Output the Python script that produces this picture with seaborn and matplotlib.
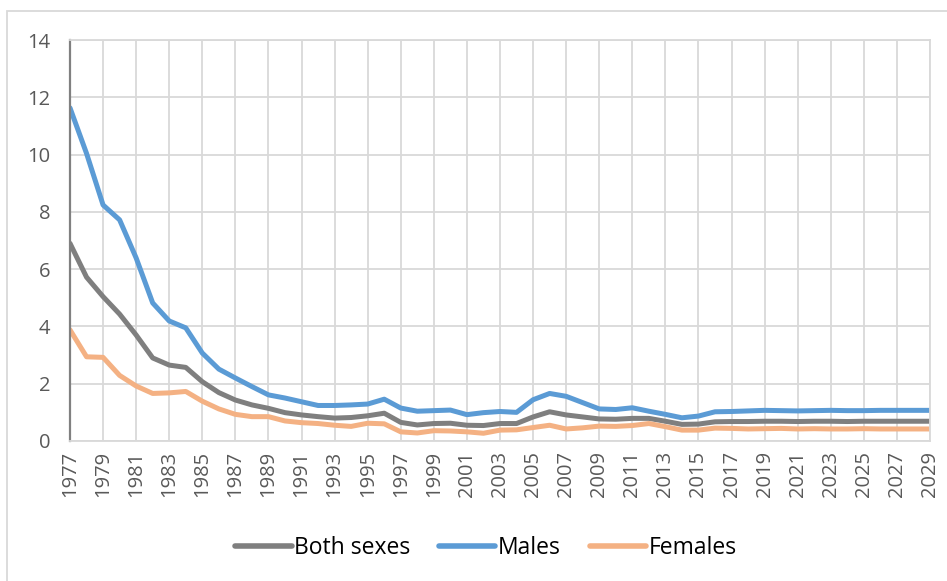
import matplotlib
matplotlib.use("Agg")
import matplotlib.pyplot as plt
import seaborn as sns
import pandas as pd
from matplotlib.patches import Rectangle
from matplotlib.lines import Line2D

years = list(range(1977, 2030))

both_sexes = [6.90, 5.72, 5.04, 4.43, 3.70, 2.90, 2.65, 2.57, 2.07, 1.69,
              1.43, 1.26, 1.14, 0.99, 0.91, 0.85, 0.80, 0.82, 0.88, 0.97,
              0.65, 0.56, 0.61, 0.62, 0.55, 0.54, 0.61, 0.61, 0.84, 1.02,
              0.91, 0.84, 0.77, 0.76, 0.79, 0.79, 0.69, 0.58, 0.59, 0.67,
              0.68, 0.68, 0.69, 0.69, 0.68, 0.69, 0.69, 0.68, 0.69, 0.69,
              0.69, 0.69, 0.69]

males = [11.63, 10.04, 8.24, 7.72, 6.39, 4.82, 4.19, 3.95, 3.07, 2.51,
         2.20, 1.90, 1.61, 1.50, 1.37, 1.24, 1.24, 1.26, 1.29, 1.46,
         1.15, 1.04, 1.06, 1.08, 0.92, 0.99, 1.03, 1.00, 1.44, 1.66,
         1.56, 1.34, 1.12, 1.10, 1.16, 1.04, 0.93, 0.81, 0.87, 1.02,
         1.03, 1.05, 1.07, 1.06, 1.05, 1.06, 1.07, 1.06, 1.06, 1.07,
         1.07, 1.07, 1.07]

females = [3.88, 2.94, 2.92, 2.29, 1.92, 1.66, 1.68, 1.73, 1.39, 1.12,
           0.93, 0.85, 0.85, 0.70, 0.64, 0.61, 0.55, 0.51, 0.62, 0.60,
           0.32, 0.28, 0.36, 0.35, 0.32, 0.27, 0.38, 0.39, 0.47, 0.55,
           0.42, 0.46, 0.52, 0.51, 0.54, 0.61, 0.50, 0.38, 0.38, 0.45,
           0.44, 0.42, 0.43, 0.44, 0.42, 0.43, 0.42, 0.42, 0.43, 0.42,
           0.42, 0.42, 0.42]

series_names = ["Both sexes", "Males", "Females"]
series_colors = ["#7f7f7f", "#5b9bd5", "#f4b183"]

df = pd.DataFrame({"Year": years, "Both sexes": both_sexes,
                   "Males": males, "Females": females})
long = df.melt(id_vars="Year", var_name="Series", value_name="Value")

sns.set_style("white")
plt.rcParams["font.family"] = ["Open Sans", "DejaVu Sans"]

fig = plt.figure(figsize=(9.47, 5.81), dpi=100)
ax = fig.add_axes([70 / 947, 1 - 441 / 581, 860 / 947, 401 / 581])

sns.lineplot(data=long, x="Year", y="Value", hue="Series",
             hue_order=series_names, palette=series_colors,
             linewidth=3.6, ax=ax, legend=False)

ax.set_xlim(1977, 2029)
ax.set_ylim(0, 14)
ax.set_yticks(range(0, 15, 2))
ax.set_xticks(years[::2])
ax.set_xticklabels([str(y) for y in years[::2]], rotation=90)
ax.tick_params(axis="both", length=0, colors="#595959", labelsize=14.5)
ax.tick_params(axis="x", pad=7)
ax.tick_params(axis="y", pad=14)
ax.set_xlabel("")
ax.set_ylabel("")
ax.grid(True, color="#d9d9d9", linewidth=1.3)
ax.set_axisbelow(True)
for side in ["top", "right", "bottom"]:
    ax.spines[side].set_color("#d9d9d9")
    ax.spines[side].set_linewidth(1.3)
ax.spines["left"].set_color("#808080")
ax.spines["left"].set_linewidth(1.6)

handles = [Line2D([0], [0], color=c, linewidth=4) for c in series_colors]
fig.legend(handles, series_names, loc="center",
           bbox_to_anchor=(486 / 947, 1 - 548 / 581),
           ncol=3, frameon=False, fontsize=16.5, handlelength=2.45,
           handletextpad=0.12, columnspacing=1.25, labelcolor="black")

fig.add_artist(Rectangle((7 / 947, -0.05), 1.05, 1 - 11 / 581 + 0.05,
                         transform=fig.transFigure, fill=False,
                         edgecolor="#d9d9d9", linewidth=1.3))

fig.savefig("out.png", dpi=100)
